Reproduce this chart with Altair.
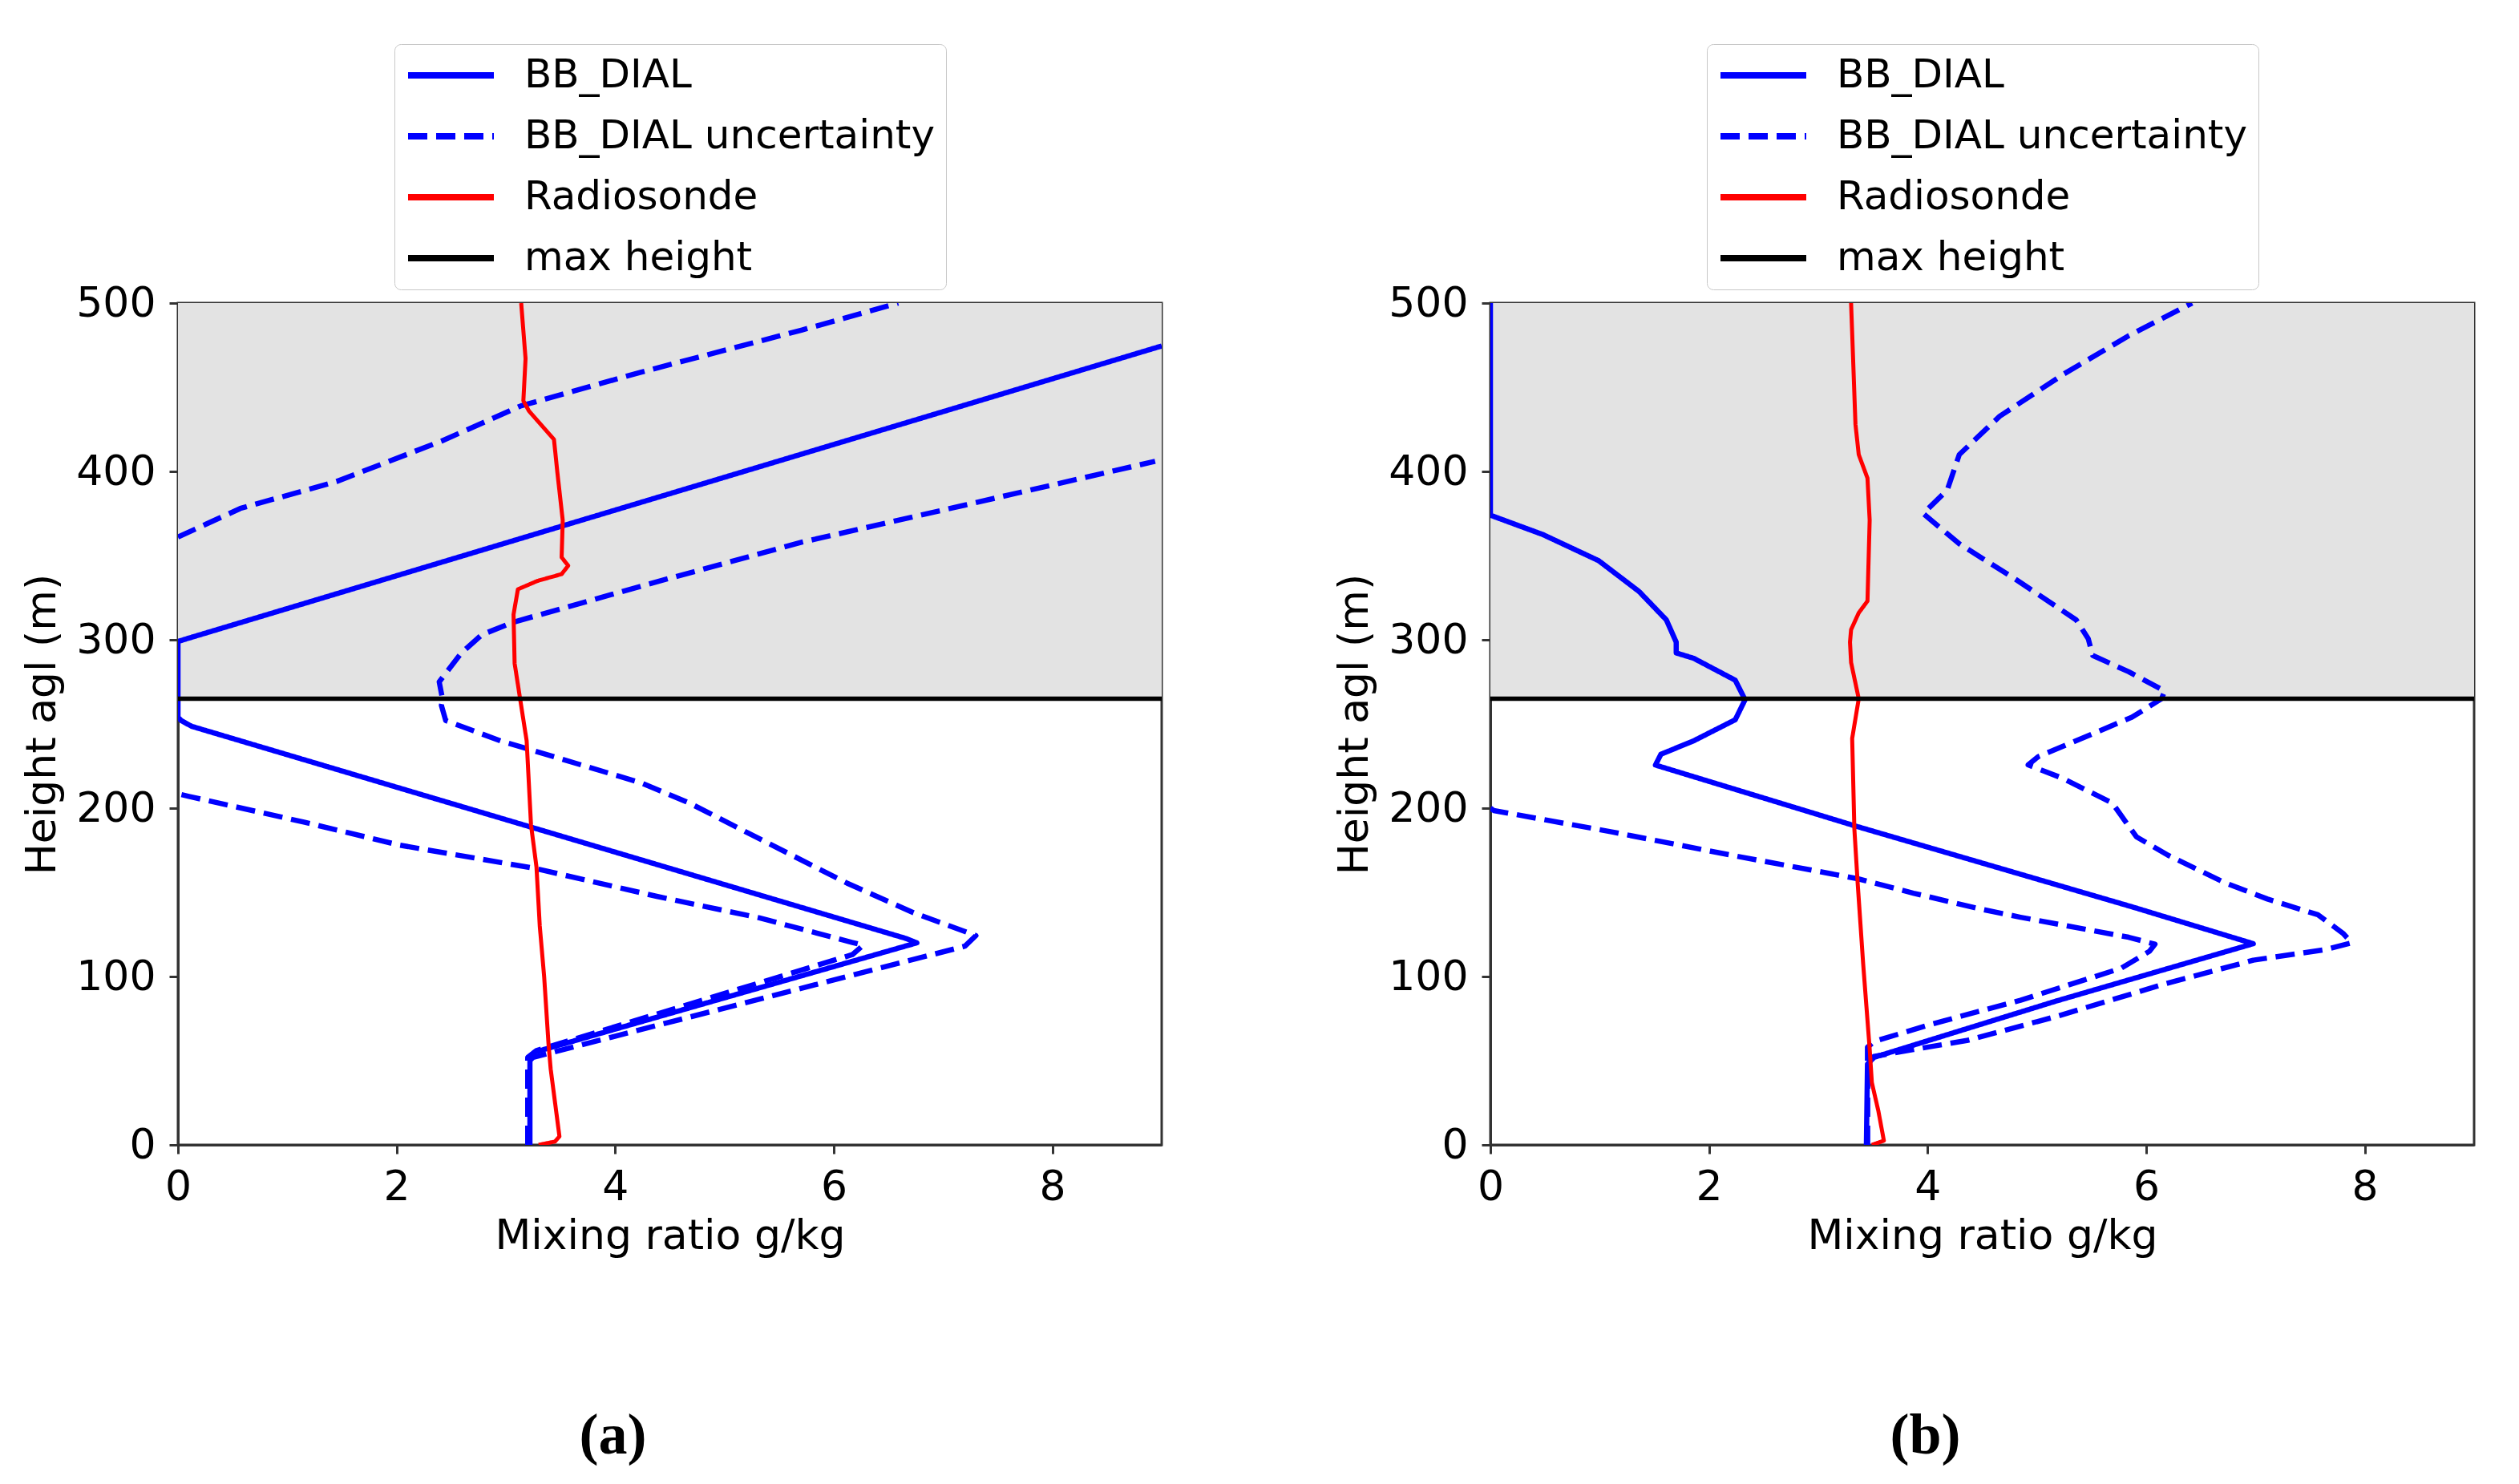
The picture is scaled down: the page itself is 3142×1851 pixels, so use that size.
import altair as alt
import pandas as pd

SERIES = ["BB_DIAL", "BB_DIAL uncertainty", "Radiosonde", "max height"]
COLORS = ["#0000ff", "#0000ff", "#ff0000", "#000000"]
DASHES = [[1, 0], [24, 11], [1, 0], [1, 0]]
X_TICKS = [0, 2, 4, 6, 8]
Y_TICKS = [0, 100, 200, 300, 400, 500]
X_DOMAIN = [0, 9]
Y_DOMAIN = [0, 500]
PANELS = ["a", "b"]
PANEL_LABELS = ["(a)", "(b)"]
MAX_HEIGHT = [265, 265]
SHADE_TOP = [500, 500]

# ---------------- panel (a) ----------------
a_dial_h = [0, 51, 55, 120, 122.6, 248.6, 252, 254, 299, 301, 474.5]
a_dial_x = [3.22, 3.22, 3.26, 6.76, 6.66, 0.125, 0.03, 0.0, 0.0, 0.1, 9.0]

a_unc_hi_h = [0, 49, 52, 118, 124.3, 137.9, 155.5, 179.5, 203, 215, 240, 252, 261, 265,
              275, 292, 303, 310.5, 333, 358, 380, 406]
a_unc_hi_x = [3.2, 3.2, 3.25, 7.2, 7.3, 6.73, 6.12, 5.39, 4.68, 4.24, 2.95, 2.45, 2.41, 2.42,
              2.39, 2.59, 2.78, 3.07, 4.3, 5.71, 7.2, 8.94]

a_unc_lo1_h = [0, 52, 56, 113, 118.6, 120.2, 134.8, 147.6, 164.3, 178, 191.6, 207, 208.5]
a_unc_lo1_x = [3.2, 3.2, 3.28, 6.17, 6.27, 6.17, 5.32, 4.38, 3.26, 2.03, 1.16, 0.1, 0.0]

a_unc_lo2_h = [361, 378, 394, 418, 439, 459, 484, 500]
a_unc_lo2_x = [0.0, 0.57, 1.45, 2.41, 3.14, 4.24, 5.71, 6.59]

a_radio_h = [0, 2, 5, 45, 60, 100, 130, 165, 190, 240, 265, 286, 315, 330, 335, 339, 344,
             349, 371, 400, 419, 436, 442, 467, 500]
a_radio_x = [3.30, 3.45, 3.49, 3.41, 3.39, 3.35, 3.31, 3.28, 3.23, 3.19, 3.13, 3.08, 3.07,
             3.11, 3.29, 3.51, 3.57, 3.51, 3.52, 3.47, 3.44, 3.21, 3.16, 3.18, 3.14]

# ---------------- panel (b) ----------------
b_dial_h = [0, 48, 52, 85.5, 119.5, 141.4, 189, 225.6, 232, 240, 252.5, 264.4, 276, 289,
            292.2, 298.6, 311.8, 328.7, 347, 362.5, 374, 500]
b_dial_x = [3.44, 3.45, 3.51, 5.18, 6.98, 5.87, 3.36, 1.51, 1.56, 1.86, 2.24, 2.33, 2.24,
            1.86, 1.70, 1.70, 1.61, 1.36, 0.99, 0.48, 0.0, 0.0]

b_unc_hi_h = [0, 48, 52.5, 56.6, 62, 76.3, 95.4, 109.7, 116, 120, 125.7, 136.7, 146, 155.7,
              172, 183, 203, 217.6, 225.7, 230.5, 254, 265, 269.6, 281, 290.7, 300.6, 311.8,
              335.7, 357, 375, 389, 410, 432.8, 458, 480.6, 500]
b_unc_hi_x = [3.45, 3.45, 3.51, 3.87, 4.36, 5.18, 6.16, 6.98, 7.64, 7.88, 7.80, 7.57, 7.11,
              6.72, 6.2, 5.91, 5.69, 5.24, 4.92, 5.01, 5.87, 6.14, 6.17, 5.84, 5.51, 5.47,
              5.36, 4.81, 4.29, 3.96, 4.18, 4.29, 4.66, 5.25, 5.84, 6.42]

b_unc_lo_h = [0, 58, 61.4, 71.6, 85.9, 104.9, 115, 119.2, 123.3, 135.2, 140, 149.5, 158.1,
              171.6, 185.9, 198.6, 200]
b_unc_lo_x = [3.45, 3.45, 3.51, 4.03, 4.85, 5.77, 6.03, 6.08, 5.84, 4.85, 4.49, 3.87, 3.36,
              2.24, 1.11, 0.03, 0.0]

b_radio_h = [0, 2.5, 20, 37, 57, 108, 155.7, 187.6, 241.4, 265, 286.5, 298.6, 306, 316, 323,
             371, 396, 410, 428, 500]
b_radio_x = [3.49, 3.60, 3.55, 3.49, 3.47, 3.41, 3.36, 3.33, 3.31, 3.37, 3.30, 3.29, 3.30,
             3.37, 3.45, 3.47, 3.45, 3.37, 3.34, 3.30]


def rows(panel, series, line, hs, xs):
    return [dict(panel=panel, series=series, line=line, h=h, x=x) for h, x in zip(hs, xs)]


records = (
    rows("a", SERIES[0], "a_dial", a_dial_h, a_dial_x)
    + rows("a", SERIES[1], "a_hi", a_unc_hi_h, a_unc_hi_x)
    + rows("a", SERIES[1], "a_lo1", a_unc_lo1_h, a_unc_lo1_x)
    + rows("a", SERIES[1], "a_lo2", a_unc_lo2_h, a_unc_lo2_x)
    + rows("a", SERIES[2], "a_radio", a_radio_h, a_radio_x)
    + rows("b", SERIES[0], "b_dial", b_dial_h, b_dial_x)
    + rows("b", SERIES[1], "b_hi", b_unc_hi_h, b_unc_hi_x)
    + rows("b", SERIES[1], "b_lo", b_unc_lo_h, b_unc_lo_x)
    + rows("b", SERIES[2], "b_radio", b_radio_h, b_radio_x)
)
lines_df = pd.DataFrame(records)
guides_df = pd.DataFrame({"panel": PANELS, "series": SERIES[3], "h": MAX_HEIGHT, "top": SHADE_TOP})

W, H = 1227, 1050

LEGEND = alt.Legend(
    orient="none", legendX=270, legendY=-323, direction="vertical", title=None,
    symbolType="stroke", symbolSize=11449, symbolStrokeWidth=8, clipHeight=52,
    rowPadding=24, padding=13, labelOffset=34, labelFontSize=50, labelFont="DejaVu Sans",
    labelColor="black", strokeColor="#c8c8c8", fillColor="white", cornerRadius=8,
    labelLimit=2000,
)


def enc_x():
    return alt.X("x:Q", scale=alt.Scale(domain=X_DOMAIN, nice=False, zero=False),
                 axis=alt.Axis(values=X_TICKS, title="Mixing ratio g/kg", labelFlush=False,
                               labelPadding=16, titlePadding=10))


def enc_y():
    return alt.Y("h:Q", scale=alt.Scale(domain=Y_DOMAIN, nice=False, zero=False),
                 axis=alt.Axis(values=Y_TICKS, title="Height agl (m)", labelFlush=False,
                               labelPadding=17, titlePadding=15))


def enc_color():
    return alt.Color("series:N", scale=alt.Scale(domain=SERIES, range=COLORS), legend=LEGEND)


def enc_dash():
    return alt.StrokeDash("series:N", scale=alt.Scale(domain=SERIES, range=DASHES), legend=LEGEND)


def panel(p, label):
    d = lines_df[lines_df.panel == p]
    g = guides_df[guides_df.panel == p]
    shade = alt.Chart(g).mark_rect(color="#e3e3e3").encode(y=enc_y(), y2="top:Q")

    def line_layer(series, width):
        return alt.Chart(d[d.series == series]).mark_line(
            strokeWidth=width, clip=True, strokeJoin="round"
        ).encode(
            x=enc_x(), y=enc_y(), color=enc_color(), strokeDash=enc_dash(),
            detail="line:N", order=alt.Order("h:Q"),
        )

    solid = line_layer(SERIES[0], 6.5)
    dashed = line_layer(SERIES[1], 6.5)
    radio = line_layer(SERIES[2], 5)
    rule = alt.Chart(g).mark_rule(strokeWidth=5.5).encode(
        y=enc_y(), color=enc_color(), strokeDash=enc_dash()
    )
    return alt.layer(shade, solid, dashed, radio, rule).properties(
        width=W, height=H,
        title=alt.TitleParams(label, orient="bottom", anchor="middle", frame="group",
                              font="Liberation Serif", fontWeight="bold", fontSize=72,
                              color="black", dx=-71, offset=246, baseline="alphabetic"),
    )


chart = alt.hconcat(panel("a", "(a)"), panel("b", "(b)"), spacing=208).resolve_scale(
    color="independent", strokeDash="independent"
).resolve_legend(
    color="independent", strokeDash="independent"
).properties(
    padding={"left": 17, "top": 45, "right": 5, "bottom": 5}, background="white"
).configure_view(
    stroke="#333333", strokeWidth=3
).configure_axis(
    domainColor="#333333", domainWidth=3, tickColor="#333333", tickWidth=3, tickSize=11,
    labelFontSize=52, titleFontSize=52, labelFont="DejaVu Sans", titleFont="DejaVu Sans",
    titleFontWeight="normal", labelColor="black", titleColor="black", grid=False,
)

chart.save("out.html", embed_options={"renderer": "svg", "actions": False})
